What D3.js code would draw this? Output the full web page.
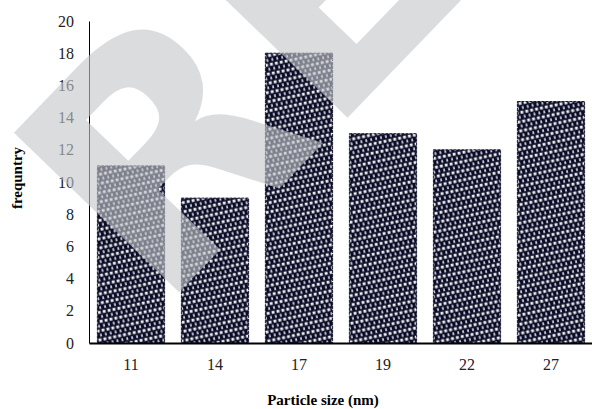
<!DOCTYPE html>
<html>
<head>
<meta charset="utf-8">
<script src="https://cdn.jsdelivr.net/npm/d3@7"></script>
<style>
  body { margin: 0; background: #fff; }
  svg { display: block; }
  .serif { font-family: "Liberation Serif", "Times New Roman", serif; }
</style>
</head>
<body>
<div id="chart"></div>
<script>
// particle size categories and how many of each
var sizes = ["11", "14", "17", "19", "22", "27"];
var counts = [11, 9, 18, 13, 12, 15];
var yTicks = [0, 2, 4, 6, 8, 10, 12, 14, 16, 18, 20];

function drawChart() {
    var width = 592, height = 409;
    var left = 89, top = 21, bottom = 343, right = 593;

    var svg = d3.select("#chart")
        .append("svg")
        .attr("width", width)
        .attr("height", height);

    // checkered fill for the bars (staggered rows of little squares)
    var defs = svg.append("defs");
    var pat = defs.append("pattern")
        .attr("id", "dots")
        .attr("patternUnits", "userSpaceOnUse")
        .attr("width", 5)
        .attr("height", 9)
        .attr("patternTransform", "rotate(-12)");
    pat.append("rect").attr("width", 5).attr("height", 9).attr("fill", "#0c0c22");
    pat.append("rect").attr("x", 0.7).attr("y", 0.8).attr("width", 2.9).attr("height", 2.9).attr("fill", "#eef0f7");
    pat.append("rect").attr("x", 3.2).attr("y", 5.3).attr("width", 2.9).attr("height", 2.9).attr("fill", "#c6cde6");

    var x = d3.scaleBand()
        .domain(sizes)
        .range([left, right])
        .paddingInner(0.2)
        .paddingOuter(0.1);

    var y = d3.scaleLinear()
        .domain([0, 20])
        .range([bottom, top]);

    var data = sizes.map(function(s, i) {
        return { size: s, count: counts[i] };
    });

    svg.selectAll(".bar")
        .data(data)
        .join("rect")
        .attr("class", "bar")
        .attr("x", function(d) { return x(d.size); })
        .attr("y", function(d) { return y(d.count); })
        .attr("width", x.bandwidth())
        .attr("height", function(d) { return y(0) - y(d.count); })
        .attr("fill", "url(#dots)")
        .attr("stroke", "#1b1b3c")
        .attr("stroke-width", 1)
        .attr("stroke-dasharray", "3,1");

    // y axis: just the line and labels
    var yAxis = svg.append("g")
        .attr("transform", "translate(" + left + ",0)")
        .call(d3.axisLeft(y).tickValues(yTicks).tickSize(0).tickPadding(15));
    yAxis.attr("font-family", null).attr("font-size", null).attr("class", "serif");
    yAxis.select(".domain").attr("stroke", "#000").attr("stroke-width", 1);
    yAxis.selectAll("text")
        .attr("font-size", 16)
        .attr("fill", "#222");

    var xAxis = svg.append("g")
        .attr("transform", "translate(0," + bottom + ")")
        .call(d3.axisBottom(x).tickSize(0).tickPadding(16));
    xAxis.attr("font-family", null).attr("font-size", null).attr("class", "serif");
    xAxis.select(".domain").attr("stroke", "#000").attr("stroke-width", 2);
    xAxis.selectAll("text")
        .attr("font-size", 16)
        .attr("fill", "#222");

    svg.append("text")
        .attr("class", "serif")
        .attr("x", 323)
        .attr("y", 405)
        .attr("text-anchor", "middle")
        .attr("font-weight", "bold")
        .attr("font-size", 15)
        .text("Particle size (nm)");

    svg.append("text")
        .attr("class", "serif")
        .attr("transform", "translate(22,178) rotate(-90)")
        .attr("text-anchor", "middle")
        .attr("font-weight", "bold")
        .attr("font-size", 15)
        .text("frequntry");

    // big grey watermark sitting on top
    svg.append("text")
        .attr("transform", "translate(159,313) rotate(-46)")
        .attr("font-family", "DejaVu Sans, sans-serif")
        .attr("font-weight", "bold")
        .attr("font-size", 315)
        .attr("fill", "#c4c6ca")
        .attr("fill-opacity", 0.62)
        .text("RE");
}

drawChart();
</script>
</body>
</html>
